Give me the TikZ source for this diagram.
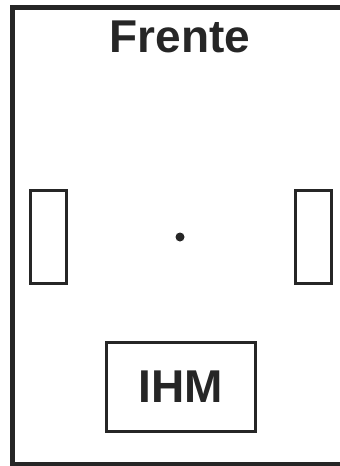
\documentclass[tikz,border=0pt]{standalone}
\usepackage{fontspec}
\setmainfont{Liberation Sans}
\usepackage{tikz}
\usetikzlibrary{positioning}

\begin{document}
\begin{tikzpicture}[
  x=1pt, y=-1pt,
  linha/.style={draw=black!85},
  roda/.style={linha, line width=3pt, inner sep=0pt, minimum width=35.5pt, minimum height=92.5pt}
]
  \clip (0,0) rectangle (340,466);
  \node[linha, line width=5pt, inner sep=0pt, minimum width=332.5pt, minimum height=456.5pt] (carro) at (178.75,235.75) {};
  \node[anchor=base, text=black!85, font=\bfseries\fontsize{46}{46}\selectfont, inner sep=0pt] (frente) at (180,52.5) {Frente};
  \node[roda] (rodaE) at (48.25,236.75) {};
  \node[roda] (rodaD) at (313.25,236.75) {};
  \node[circle, fill=black!85, inner sep=0pt, minimum size=9pt] (centro) at (180,237) {};
  \node[linha, line width=3pt, inner sep=0pt, minimum width=149pt, minimum height=89pt, text=black!85, font=\bfseries\fontsize{46}{46}\selectfont] (ihm) at (181,387) {IHM};
\end{tikzpicture}
\end{document}
